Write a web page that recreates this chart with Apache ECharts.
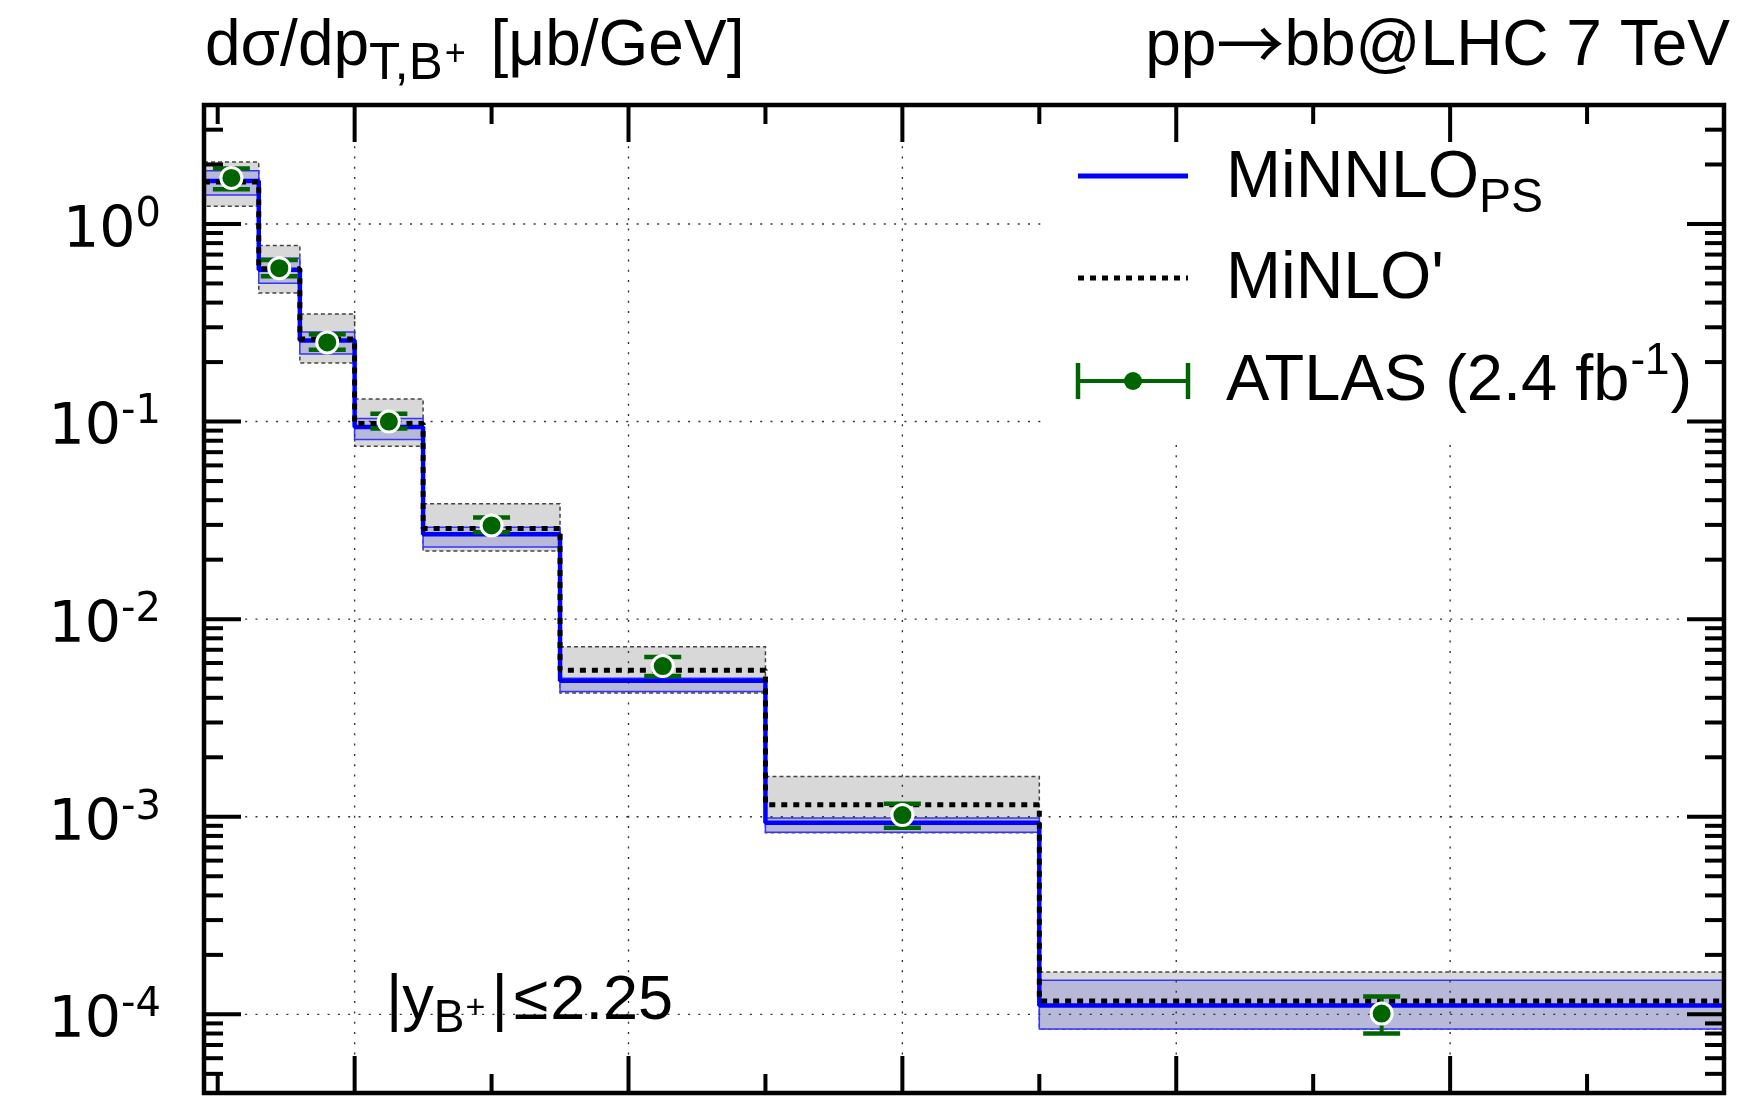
<!DOCTYPE html>
<html>
<head>
<meta charset="utf-8">
<script src="https://cdn.jsdelivr.net/npm/echarts@6/dist/echarts.min.js"></script>
<style>
  html, body { margin: 0; padding: 0; background: #fff; }
  #chart { width: 1742px; height: 1096px; }
</style>
</head>
<body>
<div id="chart"></div>
<script>
// pT bin edges of the B+ spectrum [GeV]
const binEdges = [9, 13, 16, 20, 25, 35, 50, 70, 120];

// MiNNLO_PS: central value and uncertainty band [μb/GeV]
const minnloCentral = [1.65, 0.586, 0.257, 0.0940, 0.0269, 0.00488, 0.000933, 1.11e-4];
const minnloLow     = [1.40, 0.501, 0.220, 0.0811, 0.0232, 0.00431, 0.000836, 8.43e-5];
const minnloHigh    = [1.86, 0.671, 0.284, 0.1036, 0.0292, 0.00502, 0.000985, 1.49e-4];

// MiNLO': central value and uncertainty band [μb/GeV]
const minloCentral = [1.63, 0.593, 0.262, 0.0977, 0.0288, 0.00552, 0.00115, 1.17e-4];
const minloLow     = [1.23, 0.447, 0.198, 0.0750, 0.0221, 0.00423, 0.00083, 8.43e-5];
const minloHigh    = [2.06, 0.777, 0.350, 0.130, 0.0384, 0.00725, 0.00160, 1.64e-4];

// ATLAS (2.4 fb^-1) measurement with total error [μb/GeV]
const atlasValue = [1.71, 0.597, 0.2515, 0.100, 0.0298, 0.00579, 0.00102, 1.01e-4];
const atlasLow   = [1.50, 0.544, 0.231, 0.0922, 0.0275, 0.00515, 0.000879, 8.0e-5];
const atlasHigh  = [1.91, 0.657, 0.277, 0.1094, 0.0327, 0.00643, 0.001164, 1.23e-4];

// axis ranges, ticks and grid lines
const X_MIN = 9, X_MAX = 120;
const Y_MIN = 4e-5, Y_MAX = 4;
const xTickValues = [10, 20, 30, 40, 50, 60, 70, 80, 90, 100, 110];
const xMajorStep = 20;
const xGridValues = [20, 40, 60, 80, 100];
const yDecades = [1e-4, 1e-3, 1e-2, 1e-1, 1];
const yMinorFactors = [2, 3, 4, 5, 6, 7, 8, 9];

const TEXT_FONT = '"Liberation Sans", Arial, sans-serif';
const ARROW_FONT = '"Noto Sans CJK SC", "DejaVu Sans", sans-serif';
const measureCtx = document.createElement('canvas').getContext('2d');
function textWidth(str, size, family) {
  measureCtx.font = size + 'px ' + (family || TEXT_FONT);
  return measureCtx.measureText(str).width;
}
// A line of text built from runs [text, size, rise, gapBefore, family] on a common baseline
function textRun(x, baseline, parts, align) {
  let total = 0;
  parts.forEach(p => { total += textWidth(p[0], p[1], p[4]) + (p[3] || 0); });
  let cx = align === 'right' ? x - total : x;
  const els = [];
  parts.forEach(p => {
    cx += (p[3] || 0);
    els.push({
      type: 'text', z: 30, silent: true,
      style: {
        text: p[0], x: cx, y: baseline - (p[2] || 0) - 0.347 * p[1],
        font: p[1] + 'px ' + (p[4] || TEXT_FONT), fill: '#000',
        textAlign: 'left', textVerticalAlign: 'middle'
      }
    });
    cx += textWidth(p[0], p[1], p[4]);
  });
  return els;
}

function stepPoints(vals) {
  const pts = [];
  vals.forEach((v, i) => { pts.push([binEdges[i], v]); pts.push([binEdges[i + 1], v]); });
  return pts;
}

function bandSeries(name, low, high, fill, stroke, dash, z) {
  return {
    type: 'custom', name: name, z: z, silent: true,
    data: low.map((lo, i) => [binEdges[i], binEdges[i + 1], lo, high[i]]),
    encode: { x: [0, 1], y: [2, 3] },
    renderItem: (params, api) => {
      const p0 = api.coord([api.value(0), api.value(3)]);
      const p1 = api.coord([api.value(1), api.value(2)]);
      return {
        type: 'rect',
        shape: { x: p0[0], y: p0[1], width: p1[0] - p0[0], height: p1[1] - p0[1] },
        style: { fill: fill, stroke: stroke, lineWidth: 1.5, lineDash: dash }
      };
    }
  };
}

const binCenters = binEdges.slice(0, -1).map((e, i) => (e + binEdges[i + 1]) / 2);

const chart = echarts.init(document.getElementById('chart'));

const graphics = [
  // legend backdrop
  { type: 'rect', z: 4, silent: true, shape: { x: 1046, y: 108, width: 676, height: 332 }, style: { fill: '#fff' } },
  // legend samples
  { type: 'line', z: 30, silent: true, shape: { x1: 1078, y1: 176, x2: 1188, y2: 176 }, style: { stroke: '#0000ff', lineWidth: 5 } },
  { type: 'line', z: 30, silent: true, shape: { x1: 1078, y1: 278, x2: 1188, y2: 278 }, style: { stroke: '#000', lineWidth: 5, lineDash: [6, 6] } },
  { type: 'line', z: 30, silent: true, shape: { x1: 1078, y1: 381, x2: 1188, y2: 381 }, style: { stroke: '#006400', lineWidth: 4 } },
  { type: 'line', z: 30, silent: true, shape: { x1: 1078, y1: 363, x2: 1078, y2: 399 }, style: { stroke: '#006400', lineWidth: 4.5 } },
  { type: 'line', z: 30, silent: true, shape: { x1: 1188, y1: 363, x2: 1188, y2: 399 }, style: { stroke: '#006400', lineWidth: 4.5 } },
  { type: 'circle', z: 30, silent: true, shape: { cx: 1133, cy: 381, r: 9 }, style: { fill: '#006400' } }
].concat(
  textRun(1226, 202, [['MiNNLO', 66, 0], ['PS', 48, -13]]),
  textRun(1226, 303, [["MiNLO'", 66, 0]]),
  textRun(1226, 405, [['ATLAS (2.4 fb', 65, 0], ['-1', 44, 28, 1], [')', 65, 0, 1]]),
  textRun(205, 70, [['dσ/dp', 64, 0], ['T,B', 51, -13], ['+', 36, 2, 2], [' [μb/GeV]', 64, 0, 7]]),
  textRun(1730, 70, [['pp', 64, 0], ['→', 68, 2, 0, ARROW_FONT], ['bb@LHC 7 TeV', 64, 0, 0]], 'right'),
  textRun(386, 1023, [['|y', 63, 0], ['B', 46, -12], ['+', 34, 3, 1], ['|', 63, 0, 6], ['≤', 63, 0, 6], ['2.25', 63, 0, 2]])
);

chart.setOption({
  animation: false,
  backgroundColor: '#fff',
  grid: { left: 204, top: 105, width: 1520, height: 988, containLabel: false, outerBoundsMode: 'none', show: false },
  xAxis: {
    type: 'value', min: X_MIN, max: X_MAX,
    axisLine: { show: false }, axisTick: { show: false }, axisLabel: { show: false }, splitLine: { show: false }
  },
  yAxis: {
    type: 'log', logBase: 10, min: Y_MIN, max: Y_MAX,
    axisLine: { show: false }, axisTick: { show: false }, splitLine: { show: false }, minorTick: { show: false },
    axisLabel: {
      show: true, margin: 43, showMinLabel: false, showMaxLabel: false,
      formatter: v => {
        const e = Math.log10(v);
        const n = Math.round(e);
        if (Math.abs(e - n) > 1e-6) return '';
        return '{m|10}{e|' + n + '}';
      },
      rich: {
        m: { fontFamily: 'DejaVu Sans', fontSize: 57, lineHeight: 57, color: '#000', verticalAlign: 'top', padding: [8, 0, 18, 0] },
        e: { fontFamily: 'DejaVu Sans', fontSize: 40, lineHeight: 40, color: '#000', verticalAlign: 'top' }
      }
    }
  },
  graphic: { elements: graphics },
  series: [
    bandSeries("MiNLO' band", minloLow, minloHigh, '#d8d8d8', '#444', [4, 3], 1),
    bandSeries('MiNNLO band', minnloLow, minnloHigh, '#b8b8d8', '#3535ff', null, 2),
    {
      // dotted grid lines
      type: 'custom', name: 'grid', z: 3, silent: true,
      data: [[X_MIN, 1]],
      renderItem: (params, api) => {
        const tl = api.coord([X_MIN, Y_MAX]);
        const br = api.coord([X_MAX, Y_MIN]);
        const st = { stroke: '#333', lineWidth: 1.4, lineDash: [2, 8.3] };
        const children = [];
        xGridValues.forEach(v => {
          const x = api.coord([v, 1])[0];
          children.push({ type: 'line', shape: { x1: x, y1: tl[1], x2: x, y2: br[1] }, style: st });
        });
        yDecades.forEach(v => {
          const y = api.coord([X_MIN, v])[1];
          children.push({ type: 'line', shape: { x1: tl[0], y1: y, x2: br[0], y2: y }, style: st });
        });
        return { type: 'group', children: children };
      }
    },
    {
      name: 'MiNNLO_PS', type: 'line', z: 5, silent: true,
      data: stepPoints(minnloCentral), showSymbol: false, symbol: 'none',
      lineStyle: { color: '#0000ff', width: 4.5 }
    },
    {
      name: "MiNLO'", type: 'line', z: 6, silent: true,
      data: stepPoints(minloCentral), showSymbol: false, symbol: 'none',
      lineStyle: { color: '#000', width: 5, type: [6, 6] }
    },
    {
      // ATLAS error bars
      type: 'custom', name: 'ATLAS errors', z: 7, silent: true,
      data: binCenters.map((c, i) => [c, atlasLow[i], atlasHigh[i]]),
      encode: { x: 0, y: [1, 2] },
      renderItem: (params, api) => {
        const lo = api.coord([api.value(0), api.value(1)]);
        const hi = api.coord([api.value(0), api.value(2)]);
        const st = { stroke: '#006400', lineWidth: 4.5 };
        const hw = 18.5;
        return {
          type: 'group',
          children: [
            { type: 'line', shape: { x1: lo[0], y1: lo[1], x2: hi[0], y2: hi[1] }, style: { stroke: '#006400', lineWidth: 4 } },
            { type: 'line', shape: { x1: lo[0] - hw, y1: lo[1], x2: lo[0] + hw, y2: lo[1] }, style: st },
            { type: 'line', shape: { x1: hi[0] - hw, y1: hi[1], x2: hi[0] + hw, y2: hi[1] }, style: st }
          ]
        };
      }
    },
    {
      name: 'ATLAS (2.4 fb-1)', type: 'scatter', z: 8, silent: true,
      data: binCenters.map((c, i) => [c, atlasValue[i]]),
      symbol: 'circle', symbolSize: 21,
      itemStyle: { color: '#006400', borderColor: '#fff', borderWidth: 3, opacity: 1 }
    },
    {
      // frame with inward ticks on all four sides
      type: 'custom', name: 'frame', z: 10, silent: true,
      data: [[X_MIN, 1]],
      renderItem: (params, api) => {
        const tl = api.coord([X_MIN, Y_MAX]);
        const br = api.coord([X_MAX, Y_MIN]);
        const children = [];
        const seg = (x1, y1, x2, y2) => children.push({ type: 'line', shape: { x1, y1, x2, y2 }, style: { stroke: '#000', lineWidth: 4 } });
        xTickValues.forEach(v => {
          const x = api.coord([v, 1])[0];
          const len = (v % xMajorStep === 0) ? 37 : 19;
          seg(x, br[1], x, br[1] - len);
          seg(x, tl[1], x, tl[1] + len);
        });
        yDecades.concat([10, 1e-5]).forEach(d => {
          [1].concat(yMinorFactors).forEach(k => {
            const v = d * k;
            if (v <= Y_MIN * 1.0001 || v >= Y_MAX * 0.9999) return;
            const y = api.coord([X_MIN, v])[1];
            const len = k === 1 ? 37 : 19;
            seg(tl[0], y, tl[0] + len, y);
            seg(br[0], y, br[0] - len, y);
          });
        });
        children.push({
          type: 'rect',
          shape: { x: tl[0], y: tl[1], width: br[0] - tl[0], height: br[1] - tl[1] },
          style: { fill: 'none', stroke: '#000', lineWidth: 4.5 }
        });
        return { type: 'group', children: children };
      }
    }
  ]
});
</script>
</body>
</html>
